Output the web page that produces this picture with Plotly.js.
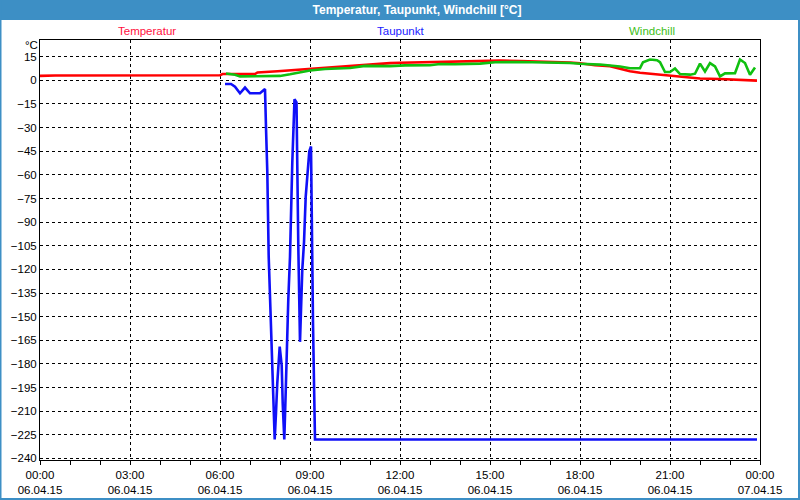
<!DOCTYPE html>
<html>
<head>
<meta charset="utf-8">
<script src="https://cdn.plot.ly/plotly-3.0.1.min.js"></script>
<style>html,body{margin:0;padding:0;background:#fff;}#chart{width:800px;height:500px;}</style>
</head>
<body>
<div id="chart"></div>
<script>
// ---- data ----
var day = '2015-04-06';
var seriesNames = ['Temperatur', 'Taupunkt', 'Windchill'];

var tempTime = ['00:00','00:30','06:00','06:05','07:10','07:15','07:55','08:25','08:45','09:10','09:55','10:50','11:40','12:00','13:00','13:40','14:20','15:00','15:20','16:00','16:30','17:00','17:40','18:00','18:30','19:00','19:20','19:40','20:00','20:20','20:40','21:00','21:20','21:40','22:00','22:40','23:20','23:40','23:54'];
var tempVal = [2.8,3.1,3.2,4.0,4.0,5.0,5.8,6.5,7.2,7.8,8.8,10.2,10.9,11.2,11.5,11.8,12.0,12.2,12.5,12.2,12.0,11.8,11.3,10.8,9.6,9.0,7.5,5.8,4.8,4.2,3.7,2.9,2.2,1.8,1.2,0.8,0.4,0.3,-0.2];

var dewTime = ['06:10','06:22','06:30','06:40','06:50','07:00','07:20','07:30','07:32','07:34:36','07:37:24','07:40','07:42:36','07:44:36','07:46:36','07:49:24','07:52','07:54:36','07:59:24','08:03:24','08:05:24','08:08:36','08:11:24','08:13:24','08:16:36','08:20','08:22','08:24:36','08:29','08:33','08:36:36','08:40','08:44:36','08:48','08:51:24','08:55:24','08:58:36','09:02','09:04','09:06','09:08','09:10','23:54'];
var dewVal = [-2.3,-2.3,-4,-8.2,-4.6,-8.2,-8.2,-5.5,-30,-58,-112,-139,-158,-175,-192,-228,-211,-192,-169,-181,-205,-228,-198,-171,-139,-112,-82,-52,-12,-14,-105,-166,-120,-103,-74,-55,-45,-42,-116,-154,-192,-228,-228];

var wcTime = ['06:12','06:30','06:40','08:00','08:20','08:40','09:00','09:30','10:20','10:50','11:40','12:10','13:00','13:20','13:50','14:40','15:10','16:00','17:00','17:40','18:00','18:40','19:20','19:40','20:00','20:06','20:20','20:34','20:40','20:50','21:00','21:10','21:20','21:40','21:50','22:00','22:10','22:20','22:30','22:40','22:50','23:10','23:20','23:30','23:40','23:50'];
var wcVal = [4.3,3.5,2.5,2.8,3.8,4.9,6.2,7.2,7.8,9.2,9.0,9.5,9.6,10.4,10.2,10.6,11.5,11.6,11.5,11.0,10.5,10.0,8.8,7.7,7.7,11.5,13.2,12.8,11.5,5.3,5.3,7.5,4.0,3.6,4.2,10.6,5.6,10.9,8.8,2.5,4.4,4.5,13.2,11.0,3.5,8.2];

var xRange = ['2015-04-06 00:00', '2015-04-07 00:00'];
var yRange = [-241, 25.6];

// ---- helpers ----
function stamp(arr){ return arr.map(function(t){ return day + ' ' + t; }); }

var FONT = 'Liberation Sans, Arial, sans-serif';
var colTemp = '#ff0000', colDew = '#1010f8', colWc = '#10c010';

var traces = [
  {x: stamp(tempTime), y: tempVal, name: seriesNames[0], type: 'scatter', mode: 'lines', line: {color: colTemp, width: 2.6}},
  {x: stamp(wcTime), y: wcVal, name: seriesNames[2], type: 'scatter', mode: 'lines', line: {color: colWc, width: 2.6}},
  {x: stamp(dewTime), y: dewVal, name: seriesNames[1], type: 'scatter', mode: 'lines', line: {color: colDew, width: 2.6}}
];

// plot area: x 40..760, y 40..460
var L = 40, R = 760, T = 40, B = 460;
function px(x){ return (x - L) / (R - L); }
function py(y){ return (B - y) / (B - T); }

var layout = {
  width: 800, height: 500,
  margin: {l: L, r: 800 - R, t: T, b: 500 - B, pad: 0},
  paper_bgcolor: '#ffffff',
  plot_bgcolor: '#ffffff',
  showlegend: false,
  font: {family: FONT, size: 11.5, color: '#000'},
  title: {text: '<b>Temperatur, Taupunkt, Windchill [°C]</b>', font: {family: FONT, size: 12, color: '#ffffff'},
          x: 417/800, xref: 'container', xanchor: 'center', y: 1 - 10/500, yref: 'container', yanchor: 'middle'},
  xaxis: {
    type: 'date', range: xRange, fixedrange: true,
    tick0: '2015-04-06 00:00', dtick: 3*3600000,
    tickformat: '%H:%M<br>%d.%m.%y',
    showgrid: true, gridcolor: '#000', gridwidth: 1, griddash: '3px,3px',
    showline: true, linecolor: '#000', linewidth: 1, mirror: true,
    ticks: 'outside', ticklen: 4, tickcolor: '#000', tickwidth: 1,
    minor: {dtick: 3600000, ticks: 'outside', ticklen: 4, tickcolor: '#000', showgrid: false},
    zeroline: false,
    tickfont: {family: FONT, size: 11.5, color: '#000'}
  },
  yaxis: {
    range: yRange, fixedrange: true,
    tick0: 0, dtick: 15,
    showgrid: true, gridcolor: '#000', gridwidth: 1, griddash: '3px,3px',
    showline: true, linecolor: '#000', linewidth: 1, mirror: true,
    ticks: '', zeroline: false,
    tickfont: {family: FONT, size: 11.5, color: '#000'}
  },
  shapes: [
    {type: 'rect', xref: 'paper', yref: 'paper', x0: px(0), x1: px(800), y0: py(20), y1: py(0),
     fillcolor: '#3d8fc5', line: {width: 0}, layer: 'below'},
    {type: 'rect', xref: 'paper', yref: 'paper', x0: px(0.5), x1: px(799), y0: py(499), y1: py(0),
     fillcolor: 'rgba(0,0,0,0)', line: {color: '#3d8fc5', width: 2}, layer: 'below'}
  ],
  annotations: [
    {text: '°C', xref: 'paper', yref: 'paper', x: px(31), y: py(45), showarrow: false, xanchor: 'center', yanchor: 'middle', font: {family: FONT, size: 11.5, color: '#000'}},
    {text: seriesNames[0], xref: 'paper', yref: 'paper', x: px(147), y: py(31), showarrow: false, xanchor: 'center', yanchor: 'middle', font: {family: FONT, size: 11.5, color: '#ff1040'}},
    {text: seriesNames[1], xref: 'paper', yref: 'paper', x: px(400), y: py(31), showarrow: false, xanchor: 'center', yanchor: 'middle', font: {family: FONT, size: 11.5, color: '#2020ff'}},
    {text: seriesNames[2], xref: 'paper', yref: 'paper', x: px(652), y: py(31), showarrow: false, xanchor: 'center', yanchor: 'middle', font: {family: FONT, size: 11.5, color: '#40c020'}}
  ]
};

Plotly.newPlot('chart', traces, layout, {staticPlot: true, displayModeBar: false});
</script>
</body>
</html>
